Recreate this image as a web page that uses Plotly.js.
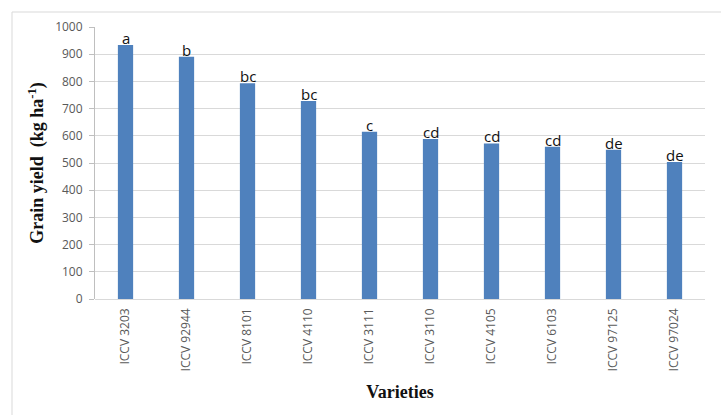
<!DOCTYPE html>
<html><head><meta charset="utf-8">
<script src="https://cdn.plot.ly/plotly-3.0.1.min.js"></script>
<style>html,body{margin:0;padding:0;background:#fff;}#chart{width:721px;height:415px;}</style>
</head><body><div id="chart"></div>
<script>
var varieties = ["ICCV 3203","ICCV 92944","ICCV 8101","ICCV 4110","ICCV 3111","ICCV 3110","ICCV 4105","ICCV 6103","ICCV 97125","ICCV 97024"];
var grainYield = [934, 891, 793, 728, 615, 588, 572, 560, 549, 504];
var letters = ["a","b","bc","bc","c","cd","cd","cd","de","de"];
var yTicks = [0,100,200,300,400,500,600,700,800,900,1000];

var L=95, R=16, T=27, B=116, W=721, H=415;
var pw=W-L-R, ph=H-T-B;
function px(x){return (x-L)/pw;}
function py(y){return (H-B-y)/ph;}

var trace = {
  type:'bar', x:varieties, y:grainYield, width:0.25,
  marker:{color:'#4f81bd', line:{width:0}},
  hoverinfo:'none'
};
var annotations = varieties.map(function(v,i){
  return {x:v, y:grainYield[i], xref:'x', yref:'y', text:letters[i], showarrow:false,
    yanchor:'bottom', yshift:-5, font:{family:'Open Sans, sans-serif', size:15, color:'#111'}};
});
var layout = {
  width:W, height:H, margin:{l:L,r:R,t:T,b:B},
  paper_bgcolor:'#fff', plot_bgcolor:'#fff', showlegend:false,
  annotations:annotations,
  xaxis:{type:'category', tickangle:-90, tickfont:{family:'Open Sans, sans-serif', size:12, color:'#595959'},
    showgrid:false, showline:false, ticks:'', ticklen:0, ticklabelstandoff:6,
    title:{text:'<b>Varieties</b>', font:{family:'Liberation Serif, serif', size:18, color:'#111'}, standoff:14}},
  yaxis:{range:[0,1000], tickvals:yTicks, ticktext:yTicks.map(String),
    tickfont:{family:'Open Sans, sans-serif', size:12, color:'#595959'}, ticklabelstandoff:4,
    showgrid:true, gridcolor:'#d9d9d9', gridwidth:1, zeroline:true, zerolinecolor:'#d9d9d9', zerolinewidth:1,
    showline:true, linecolor:'#bfbfbf', linewidth:1, ticks:'outside', ticklen:5, tickcolor:'#bfbfbf',
    title:{text:'<b>Grain yield  (kg ha<sup>-1</sup>)</b>', font:{family:'Liberation Serif, serif', size:18, color:'#111'}, standoff:6}},
  shapes:[{type:'rect', xref:'paper', yref:'paper', x0:px(12), x1:px(730), y0:py(430), y1:py(12),
    line:{color:'#d9d9d9', width:1}, fillcolor:'rgba(0,0,0,0)', layer:'below'}]
};
Plotly.newPlot('chart',[trace],layout,{staticPlot:true});
</script></body></html>
